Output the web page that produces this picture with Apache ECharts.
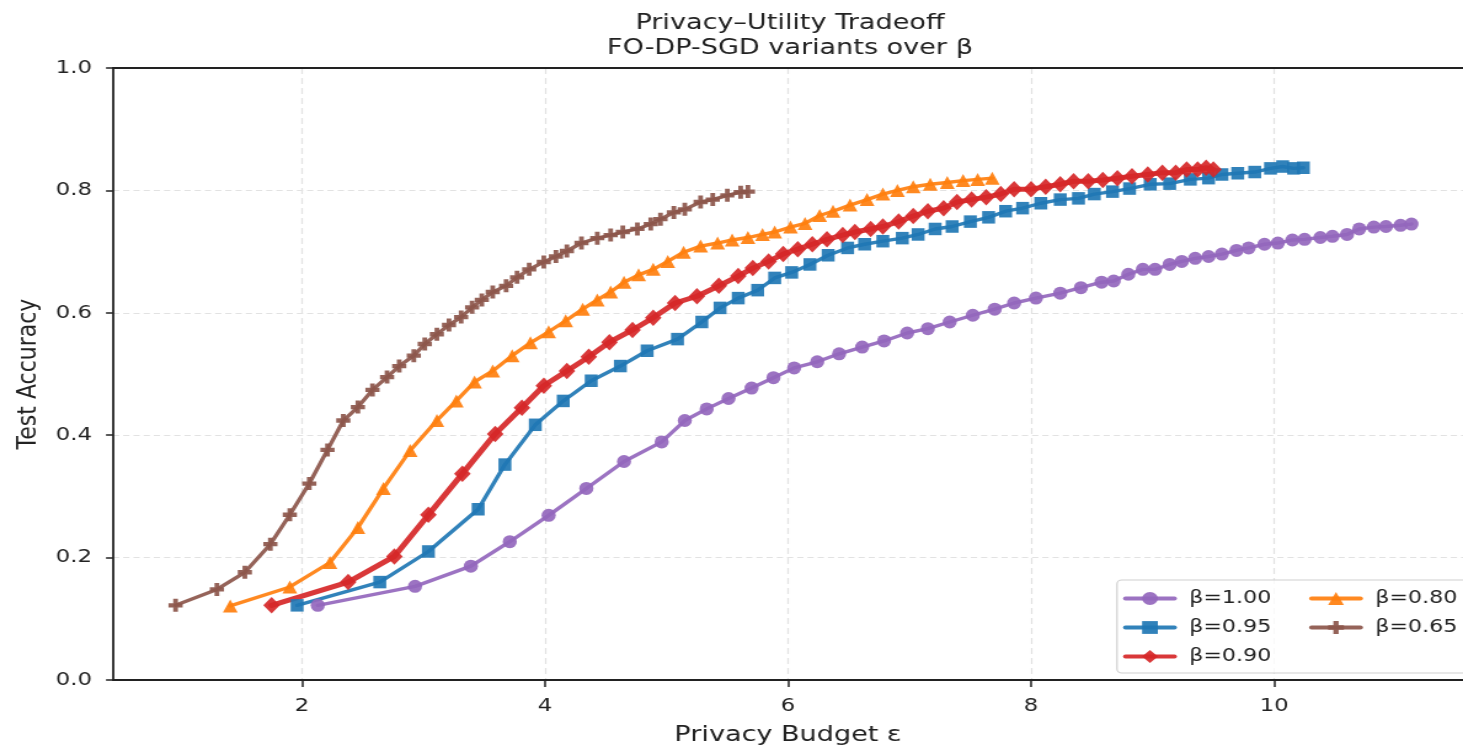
<!DOCTYPE html>
<html><head><meta charset="utf-8">
<script src="https://cdn.jsdelivr.net/npm/echarts@6/dist/echarts.min.js"></script>
<style>
html,body{margin:0;padding:0;background:#fff;overflow:hidden;}
#wrap{width:1463px;height:751px;overflow:hidden;position:relative;}
#chart{width:1189px;height:751px;transform:scaleX(1.230446);transform-origin:0 0;}
</style></head><body><div id="wrap"><div id="chart"></div></div>
<script>
// ---- data ----
const xTicks = [2, 4, 6, 8, 10];
const seriesNames = ['β=1.00', 'β=0.95', 'β=0.90', 'β=0.80', 'β=0.65'];

const eps100 = [2.13,2.93,3.39,3.71,4.03,4.34,4.65,4.96,5.15,5.33,5.51,5.70,5.88,6.05,6.24,6.42,6.61,6.79,6.98,7.15,7.33,7.52,7.70,7.86,8.04,8.24,8.41,8.58,8.68,8.80,8.92,9.02,9.14,9.24,9.35,9.46,9.57,9.69,9.79,9.92,10.03,10.15,10.25,10.38,10.48,10.60,10.70,10.82,10.92,11.04,11.13];
const acc100 = [0.122,0.153,0.186,0.226,0.269,0.313,0.357,0.389,0.424,0.443,0.460,0.477,0.494,0.510,0.520,0.533,0.544,0.554,0.567,0.574,0.585,0.596,0.606,0.616,0.624,0.632,0.641,0.650,0.652,0.663,0.671,0.671,0.679,0.684,0.689,0.692,0.696,0.702,0.706,0.712,0.714,0.719,0.720,0.723,0.725,0.728,0.737,0.740,0.741,0.743,0.745];

const eps095 = [1.96,2.64,3.04,3.45,3.67,3.92,4.15,4.38,4.62,4.84,5.09,5.29,5.44,5.59,5.75,5.89,6.03,6.18,6.33,6.49,6.63,6.78,6.94,7.07,7.21,7.35,7.50,7.65,7.79,7.93,8.08,8.24,8.39,8.52,8.67,8.81,8.98,9.14,9.31,9.46,9.57,9.70,9.84,9.97,10.07,10.16,10.24];
const acc095 = [0.122,0.160,0.210,0.279,0.352,0.417,0.456,0.489,0.513,0.538,0.557,0.585,0.608,0.624,0.637,0.657,0.666,0.679,0.694,0.706,0.712,0.717,0.722,0.728,0.737,0.741,0.749,0.756,0.766,0.771,0.779,0.785,0.787,0.794,0.798,0.803,0.810,0.811,0.818,0.820,0.826,0.828,0.830,0.836,0.839,0.836,0.837];

const eps090 = [1.75,2.38,2.76,3.04,3.32,3.59,3.81,3.99,4.18,4.36,4.53,4.72,4.89,5.07,5.25,5.43,5.59,5.71,5.84,5.96,6.08,6.20,6.32,6.45,6.55,6.68,6.78,6.91,7.03,7.15,7.28,7.39,7.51,7.63,7.75,7.86,8.00,8.12,8.24,8.35,8.47,8.59,8.71,8.83,8.96,9.08,9.19,9.28,9.37,9.44,9.50];
const acc090 = [0.122,0.160,0.202,0.270,0.337,0.402,0.445,0.481,0.505,0.528,0.552,0.572,0.592,0.616,0.627,0.644,0.660,0.673,0.684,0.696,0.704,0.712,0.720,0.727,0.732,0.737,0.741,0.749,0.758,0.766,0.771,0.781,0.785,0.789,0.794,0.802,0.802,0.806,0.810,0.815,0.815,0.817,0.820,0.823,0.826,0.829,0.829,0.834,0.834,0.837,0.834];

const eps080 = [1.41,1.90,2.23,2.46,2.67,2.89,3.11,3.27,3.42,3.57,3.73,3.88,4.03,4.17,4.31,4.43,4.54,4.65,4.77,4.89,5.01,5.14,5.28,5.42,5.54,5.67,5.79,5.89,6.02,6.14,6.26,6.37,6.51,6.65,6.78,6.90,7.03,7.17,7.31,7.44,7.56,7.68];
const acc080 = [0.121,0.152,0.192,0.249,0.313,0.375,0.424,0.456,0.487,0.505,0.530,0.551,0.569,0.587,0.606,0.621,0.634,0.650,0.662,0.671,0.684,0.699,0.709,0.714,0.719,0.723,0.728,0.732,0.740,0.746,0.759,0.766,0.776,0.785,0.794,0.800,0.806,0.810,0.813,0.816,0.818,0.820];

const eps065 = [0.96,1.30,1.53,1.74,1.90,2.06,2.21,2.34,2.46,2.58,2.70,2.80,2.92,3.01,3.11,3.21,3.31,3.40,3.48,3.57,3.68,3.77,3.87,3.99,4.09,4.18,4.30,4.43,4.54,4.64,4.76,4.87,4.95,5.06,5.15,5.28,5.38,5.50,5.61,5.67];
const acc065 = [0.122,0.148,0.176,0.222,0.270,0.321,0.376,0.424,0.446,0.474,0.495,0.513,0.530,0.549,0.565,0.580,0.593,0.609,0.621,0.634,0.644,0.658,0.671,0.683,0.692,0.701,0.714,0.722,0.727,0.732,0.737,0.745,0.753,0.764,0.769,0.781,0.785,0.792,0.797,0.798];

// ---- chart ----
const FONT = 'DejaVu Sans';
const PLUS = 'path://M1,0H2V1H3V2H2V3H1V2H0V1H1Z';

function mk(name, xs, ys, color, symbol, size, width) {
  return {
    type: 'line', name: name,
    data: xs.map((x, i) => [x, ys[i]]),
    symbol: symbol, symbolSize: size, showSymbol: true, showAllSymbol: true,
    lineStyle: { color: color, width: width, opacity: 0.92, join: 'round', cap: 'round' },
    itemStyle: { color: color, opacity: 0.92, borderWidth: 0 },
    emphasis: { disabled: true },
    clip: false, z: 2
  };
}

const chart = echarts.init(document.getElementById('chart'), null, { renderer: 'canvas' });
const axisCol = '#222';
const gridCol = '#e2e2e2';
const legendBase = {
  orient: 'vertical', top: 589.5, padding: 0,
  itemWidth: 39.8, itemHeight: 16, itemGap: 11,
  lineStyle: { width: 4 },
  textStyle: { fontSize: 18, color: axisCol, fontFamily: FONT, padding: [0, 0, 0, 7] }
};
const option = {
  backgroundColor: '#ffffff',
  animation: false,
  textStyle: { fontFamily: FONT },
  title: {
    text: 'Privacy–Utility Tradeoff\nFO-DP-SGD variants over β',
    left: 642, top: 11, textAlign: 'center', padding: 0,
    textStyle: { fontSize: 22, lineHeight: 25, fontWeight: 'normal', color: axisCol, fontFamily: FONT }
  },
  grid: { left: 91.84, right: 0, top: 68, bottom: 69, containLabel: false },
  xAxis: [{
    type: 'value', min: 0.445, max: 11.554, position: 'bottom',
    name: 'Privacy Budget ε', nameLocation: 'middle', nameGap: 44,
    nameTextStyle: { fontSize: 22, color: axisCol, fontFamily: FONT },
    axisLine: { show: true, onZero: false, lineStyle: { color: axisCol, width: 1.8 } },
    axisTick: { show: true, length: 7, customValues: xTicks, lineStyle: { color: axisCol, width: 1.5 } },
    axisLabel: { customValues: xTicks, margin: 17, fontSize: 18.5, color: axisCol, fontFamily: FONT, formatter: v => String(v) },
    splitLine: { show: true, lineStyle: { color: gridCol, width: 1.2, type: [6, 4] } }
  }, {
    type: 'value', min: 0.445, max: 11.554, position: 'top',
    axisLine: { show: true, onZero: false, lineStyle: { color: axisCol, width: 1.8 } },
    axisTick: { show: false }, axisLabel: { show: false }, splitLine: { show: false }
  }],
  yAxis: {
    type: 'value', min: 0, max: 1, interval: 0.2,
    name: 'Test Accuracy', nameLocation: 'middle', nameGap: 56,
    nameTextStyle: { fontSize: 22, color: axisCol, fontFamily: FONT },
    axisLine: { show: true, lineStyle: { color: axisCol, width: 1.8 } },
    axisTick: { show: true, length: 5.7, lineStyle: { color: axisCol, width: 1.5 } },
    axisLabel: { margin: 17.1, fontSize: 18.5, color: axisCol, fontFamily: FONT, formatter: v => v.toFixed(1) },
    splitLine: { show: true, lineStyle: { color: gridCol, width: 1.2, type: [5, 3.3] } }
  },
  legend: [
    Object.assign({}, legendBase, { data: [seriesNames[0], seriesNames[1], seriesNames[2]], left: 912.7 }),
    Object.assign({}, legendBase, { data: [seriesNames[3], seriesNames[4]], left: 1063.9 })
  ],
  graphic: [{
    type: 'rect', z: 3, silent: true,
    shape: { x: 907.8, y: 580, width: 300, height: 93, r: 4 },
    style: { fill: 'rgba(255,255,255,0.8)', stroke: '#d0d0d0', lineWidth: 1.2 }
  }],
  series: [
    mk(seriesNames[0], eps100, acc100, '#9467bd', 'circle', [11.5, 13], 3.4),
    mk(seriesNames[1], eps095, acc095, '#1f77b4', 'rect', [10.5, 12.5], 3.4),
    mk(seriesNames[2], eps090, acc090, '#d62728', 'diamond', [13.5, 16.5], 5),
    mk(seriesNames[3], eps080, acc080, '#ff7f0e', 'triangle', [12, 13], 3.4),
    mk(seriesNames[4], eps065, acc065, '#8c564b', PLUS, [11.5, 13], 3.4)
  ]
};
chart.setOption(option);
</script></body></html>
